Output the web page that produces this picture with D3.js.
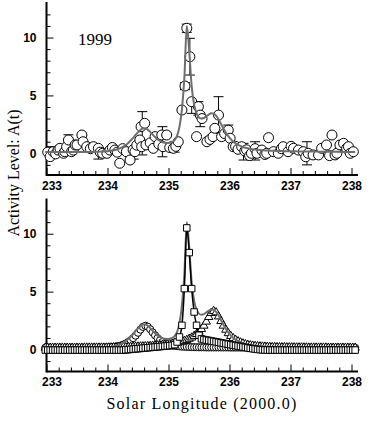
<!DOCTYPE html>
<html><head><meta charset="utf-8">
<script src="https://cdn.jsdelivr.net/npm/d3@7"></script>
<style>body{margin:0;background:#fff}svg{display:block}</style>
</head><body>
<svg id="chart" width="372" height="421"></svg>
<script>
// ---------------- data ----------------
const xMajorTicks = [233, 234, 235, 236, 237, 238];
const xMinorTicks = [233.2,233.4,233.6,233.8,234.2,234.4,234.6,234.8,235.2,235.4,235.6,235.8,236.2,236.4,236.6,236.8,237.2,237.4,237.6,237.8];
const yMajorTicks = [0, 5, 10];
const yMinorTicks = [-1,1,2,3,4,6,7,8,9,11,12];
const yearLabel = "1999";

// observed activity (top panel)
const obsX = [233.02,233.06,233.11,233.15,233.19,233.22,233.28,233.30,233.33,233.36,233.41,233.44,233.47,233.50,233.58,233.60,233.66,233.72,233.77,233.85,233.88,233.92,233.99,234.04,234.08,234.12,234.16,234.20,234.25,234.31,234.37,234.42,234.45,234.48,234.53,234.55,234.56,234.61,234.63,234.70,234.75,234.78,234.84,234.89,234.91,234.97,235.02,235.08,235.12,235.16,235.22,235.27,235.30,235.35,235.38,235.46,235.49,235.52,235.55,235.63,235.68,235.73,235.76,235.82,235.87,235.92,235.98,236.01,236.06,236.10,236.14,236.20,236.25,236.28,236.33,236.36,236.42,236.45,236.53,236.58,236.61,236.64,236.72,236.80,236.85,236.88,236.96,237.01,237.05,237.13,237.21,237.25,237.29,237.37,237.46,237.51,237.59,237.64,237.68,237.73,237.76,237.81,237.87,237.92,237.95,237.98,238.03];
const obsY = [0.10,-0.29,0.14,-0.05,0.28,0.43,0.00,0.14,0.57,1.15,0.14,0.28,0.72,0.72,1.58,1.00,0.57,0.40,0.57,0.43,0.10,0.00,0.00,0.28,0.50,0.28,0.10,-0.86,0.40,0.14,-0.58,0.30,0.14,0.70,1.15,2.30,0.57,2.59,0.72,0.90,0.43,1.44,0.80,1.58,0.57,1.58,0.50,0.43,0.60,1.00,3.74,5.81,10.80,8.34,4.46,1.44,4.03,3.30,3.00,1.00,1.20,1.44,2.16,3.30,1.44,1.70,2.00,1.30,0.57,0.60,0.35,0.57,0.20,0.30,-0.20,0.00,0.40,0.00,0.28,-0.10,0.00,1.35,0.14,0.00,0.40,0.57,0.14,0.60,0.43,0.28,0.14,-0.30,0.00,-0.14,-0.14,0.43,0.72,-0.20,1.58,-0.14,0.00,0.72,0.86,0.43,0.57,0.00,0.14];

// error bars (top panel)
const errX  = [233.08,233.36,233.58,233.85,234.08,234.43,234.57,234.90,235.10,235.27,235.30,235.35,235.38,235.49,235.52,235.82,235.98,236.23,236.42,237.27];
const errLo = [-0.29,0.60,1.00,-0.50,0.00,-0.50,-0.14,-0.30,0.10,5.50,10.45,6.76,3.45,3.30,2.30,1.73,1.43,-0.58,-0.58,-1.00];
const errHi = [0.57,1.60,1.60,0.50,0.60,0.40,3.60,2.30,1.00,6.10,11.16,9.93,4.46,4.46,3.30,4.89,2.44,0.86,1.00,1.00];

// model components on a grid starting at 232.98, step 0.04 (128 points)
const gridStart = 232.98, gridStep = 0.04;
const modelTotal = [0.12,0.12,0.12,0.12,0.12,0.12,0.12,0.12,0.12,0.12,0.12,0.12,0.12,0.12,0.12,0.12,0.12,0.12,0.12,0.12,0.12,
 0.13,0.14,0.15,0.16,0.17,
 0.19,0.22,0.26,0.31,0.38,0.47,0.58,0.72,0.9,1.1,
 1.33,1.58,1.82,2.02,2.15,2.15,2.05,1.85,1.62,1.4,
 1.22,1.08,0.98,0.92,0.9,0.92,1.0,1.15,1.5,2.3,
 3.8,6.5,11.0,8.8,5.8,4.2,3.45,3.1,3.0,3.05,
 3.2,3.35,3.45,3.42,3.25,2.95,2.55,2.15,1.78,1.48,
 1.22,1.02,0.86,0.73,0.63,0.55,0.48,0.43,0.39,0.35,
 0.32,0.3,0.28,0.26,0.25,0.24,0.23,0.22,0.21,0.2,
 0.19,0.19,0.18,0.18,0.18,0.17,0.17,0.17,0.16,0.16,0.16,0.16,0.15,0.15,0.15,
 0.15,0.14,0.14,0.14,0.14,0.13,0.13,0.13,0.13,0.13,0.12,0.12,0.12,0.12,0.12,0.12,0.12];
const compCircles = [0.15,0.15,0.15,0.15,0.15,0.15,0.15,0.15,0.15,0.15,0.15,0.15,0.15,0.15,0.15,0.15,0.15,0.15,0.15,0.15,0.15,
 0.16,0.16,0.17,0.17,0.18,
 0.19,0.21,0.23,0.26,0.3,0.35,0.42,0.52,0.65,0.8,
 0.98,1.2,1.45,1.72,1.95,2.05,1.97,1.75,1.48,1.22,
 0.98,0.8,0.65,0.54,0.46,0.4,0.35,0.32,0.29,0.27,
 0.25,0.24,0.23,0.22,0.21,0.2,0.2,0.19,0.19,0.19,
 0.18,0.18,0.18,0.18,0.18,0.18,0.18,0.18,0.18,0.18,
 0.17,0.17,0.17,0.17,0.17,0.17,0.17,0.17,0.17,0.17,0.17,0.17,0.17,0.17,0.17,0.17,0.17,0.17,0.17,0.17,
 0.16,0.16,0.16,0.16,0.16,0.16,0.16,0.16,0.16,0.16,0.16,0.16,0.16,0.16,0.16,
 0.15,0.15,0.15,0.15,0.15,0.15,0.15,0.15,0.15,0.15,0.15,0.15,0.15,0.15,0.15,0.15,0.15];
const compSquares = [-0.05,-0.05,-0.05,-0.05,-0.05,-0.05,-0.05,-0.05,-0.05,-0.05,-0.05,-0.05,-0.05,-0.05,-0.05,-0.05,-0.05,-0.05,-0.05,-0.05,-0.05,-0.05,-0.05,-0.05,-0.05,-0.05,-0.05,-0.05,-0.05,-0.05,-0.05,-0.05,-0.05,
 -0.03,-0.01,0.01,0.03,0.05,0.07,0.09,0.11,0.13,0.15,
 0.17,0.19,0.21,0.23,0.25,0.27,0.29,0.31,0.33,0.36,
 0.42,0.65,1.08,2.09,5.26,10.5,8.37,5.26,3.24,2.09,
 1.23,0.92,0.86,0.82,0.78,0.74,0.7,0.66,0.62,0.58,
 0.54,0.5,0.46,0.42,0.38,0.34,0.3,0.26,0.22,0.18,
 0.14,0.1,0.07,0.04,0.01,-0.01,-0.03,-0.04,-0.05,-0.05,
 -0.05,-0.05,-0.05,-0.05,-0.05,-0.05,-0.05,-0.05,-0.05,-0.05,-0.05,-0.05,-0.05,-0.05,-0.05,-0.05,-0.05,-0.05,-0.05,-0.05,-0.05,-0.05,-0.05,-0.05,-0.05,-0.05,-0.05,-0.05,-0.05,-0.05,-0.05,-0.05,-0.05,-0.05,-0.05];
const compTriangles = [0.15,0.15,0.15,0.15,0.15,0.15,0.15,0.15,0.15,0.15,0.15,0.15,0.15,0.15,0.15,0.15,
 0.16,0.16,0.16,0.16,0.16,0.16,0.16,0.16,0.16,0.16,
 0.17,0.17,0.18,0.18,0.19,0.19,0.2,0.2,0.21,0.22,
 0.23,0.24,0.25,0.26,0.27,0.28,0.29,0.3,0.32,0.33,
 0.35,0.37,0.39,0.41,0.44,0.47,0.5,0.54,0.58,0.62,
 0.67,0.74,0.82,0.92,1.03,1.17,1.33,1.53,1.76,2.05,
 2.4,2.8,3.15,3.32,3.2,2.85,2.45,2.05,1.7,1.4,
 1.16,0.97,0.82,0.7,0.6,0.52,0.45,0.4,0.36,0.33,
 0.3,0.28,0.26,0.25,0.24,0.23,0.22,0.21,0.21,0.2,
 0.19,0.19,0.19,0.18,0.18,0.18,0.18,0.17,0.17,0.17,0.17,0.17,0.16,0.16,0.16,
 0.16,0.16,0.16,0.16,0.16,0.15,0.15,0.15,0.15,0.15,0.15,0.15,0.15,0.15,0.15,0.15,0.15];

// ---------------- drawing ----------------
const gridX = modelTotal.map((_, i) => gridStart + i * gridStep);
const svg = d3.select("#chart");
const x = d3.scaleLinear().domain([233, 238]).range([46.5, 351.5]);
const panels = [
  {y: d3.scaleLinear().domain([-1.9, 13]).range([175.3, 2.8]), axisY: 175, topY: 2},
  {y: d3.scaleLinear().domain([-1.9, 13]).range([371.5, 199]), axisY: 371.5, topY: 198.5}
];
const tickFont = "Liberation Sans, Arial, sans-serif";
const serif = "Liberation Serif, Times New Roman, serif";
const gray = "#6e6e6e";

panels.forEach(p => {
  const g = svg.append("g");
  g.append("g").attr("transform", `translate(0,${p.axisY})`)
    .call(d3.axisBottom(x).tickValues(xMinorTicks).tickSize(-4).tickFormat(""))
    .call(a => a.select(".domain").remove());
  const xa = g.append("g").attr("transform", `translate(0,${p.axisY})`)
    .call(d3.axisBottom(x).tickValues(xMajorTicks).tickSize(-7).tickPadding(6).tickFormat(d3.format("d")));
  xa.select(".domain").remove();
  xa.selectAll("text").attr("font-family", tickFont).attr("font-size", 12).attr("font-weight", "bold")
    .attr("fill", "#000").attr("dx", (d, i) => i === 0 ? 5 : 0);
  g.append("g").attr("transform", `translate(46.5,0)`)
    .call(d3.axisLeft(p.y).tickValues(yMinorTicks).tickSize(-4).tickFormat(""))
    .call(a => a.select(".domain").remove());
  const ya = g.append("g").attr("transform", `translate(46.5,0)`)
    .call(d3.axisLeft(p.y).tickValues(yMajorTicks).tickSize(-7).tickPadding(10).tickFormat(d3.format("d")));
  ya.select(".domain").remove();
  ya.selectAll("text").attr("font-family", tickFont).attr("font-size", 12).attr("font-weight", "bold").attr("fill", "#000");
  g.append("line").attr("x1", 46.5).attr("x2", 358).attr("y1", p.axisY).attr("y2", p.axisY)
    .attr("stroke", "#000").attr("stroke-width", 2);
  g.append("line").attr("x1", 46.5).attr("x2", 46.5).attr("y1", p.topY).attr("y2", p.axisY + 1)
    .attr("stroke", "#000").attr("stroke-width", 2);
});

const line = (ys, yScale) => d3.line().x((d, i) => x(gridX[i])).y(d => yScale(d)).curve(d3.curveMonotoneX)(ys);

// ---- top panel ----
const yT = panels[0].y;
const topG = svg.append("g");
errX.forEach((ex, i) => {
  const cx = x(ex);
  topG.append("line").attr("x1", cx).attr("x2", cx).attr("y1", yT(errLo[i])).attr("y2", yT(errHi[i]))
    .attr("stroke", "#000").attr("stroke-width", 1);
  [errLo[i], errHi[i]].forEach(v => topG.append("line").attr("x1", cx - 5).attr("x2", cx + 5)
    .attr("y1", yT(v)).attr("y2", yT(v)).attr("stroke", "#000").attr("stroke-width", 1));
});
topG.selectAll("circle.obs").data(obsX).join("circle").attr("class", "obs")
  .attr("cx", d => x(d)).attr("cy", (d, i) => yT(obsY[i])).attr("r", 5)
  .attr("fill", "#fff").attr("stroke", "#000").attr("stroke-width", 1);
topG.append("path").attr("d", line(modelTotal, yT)).attr("fill", "none")
  .attr("stroke", gray).attr("stroke-width", 2);
topG.append("text").attr("x", 78).attr("y", 45).attr("font-family", serif).attr("font-size", 17)
  .text(yearLabel);

// ---- bottom panel ----
const yB = panels[1].y;
const botG = svg.append("g");
const sym = (type, size) => d3.symbol().type(type).size(size)();
botG.selectAll("path.c").data(compCircles).join("path").attr("class", "c")
  .attr("transform", (d, i) => `translate(${x(gridX[i])},${yB(d)})`)
  .attr("d", sym(d3.symbolCircle, 40)).attr("fill", "#fff").attr("stroke", "#000").attr("stroke-width", 1);
botG.selectAll("path.t").data(compTriangles).join("path").attr("class", "t")
  .attr("transform", (d, i) => `translate(${x(gridX[i])},${yB(d)})`)
  .attr("d", sym(d3.symbolTriangle, 30)).attr("fill", "#fff").attr("stroke", "#000").attr("stroke-width", 1);
botG.append("path").attr("d", line(modelTotal, yB)).attr("fill", "none")
  .attr("stroke", gray).attr("stroke-width", 2);
botG.append("path").attr("d", line(compSquares, yB)).attr("fill", "none")
  .attr("stroke", "#000").attr("stroke-width", 1.5);
botG.selectAll("path.s").data(compSquares).join("path").attr("class", "s")
  .attr("transform", (d, i) => `translate(${x(gridX[i])},${yB(d)})`)
  .attr("d", sym(d3.symbolSquare, 42)).attr("fill", "#fff").attr("stroke", "#000").attr("stroke-width", 1);

// ---- titles ----
svg.append("text").attr("x", 202).attr("y", 409).attr("text-anchor", "middle")
  .attr("font-family", serif).attr("font-size", 16).attr("letter-spacing", 1.2)
  .text("Solar Longitude (2000.0)");
svg.append("text").attr("transform", "translate(19,173) rotate(-90)").attr("text-anchor", "middle")
  .attr("font-family", serif).attr("font-size", 16)
  .text("Activity Level: A(t)");
</script>
</body></html>
